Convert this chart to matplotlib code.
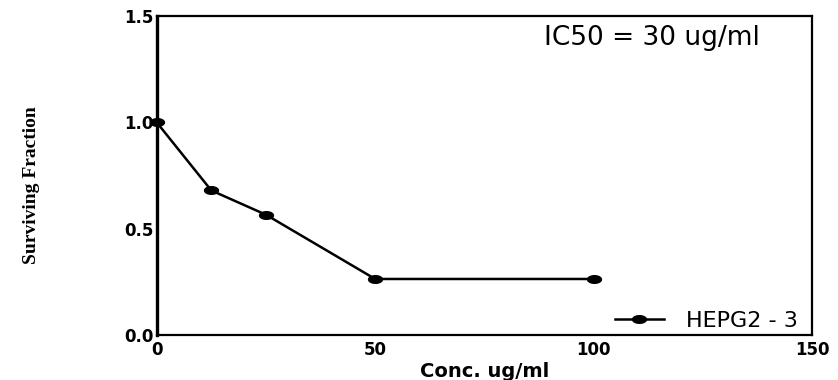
import matplotlib
matplotlib.use('Agg')
import matplotlib.pyplot as plt
from matplotlib.path import Path
import numpy as np

# data
conc = [0, 12.5, 25, 50, 100]
surv = [1.0, 0.68, 0.566, 0.264, 0.264]
series_name = 'HEPG2 - 3'
ic50_text = 'IC50 = 30 ug/ml'
xticks = [0, 50, 100, 150]
yticks = [0.0, 0.5, 1.0, 1.5]

# the scan is stretched sideways, so the dots look like flat ellipses
t = np.linspace(0, 2*np.pi, 40)
oval = Path(np.column_stack([np.cos(t), 0.55*np.sin(t)]), closed=True)

fig = plt.figure(figsize=(8.38, 3.8), dpi=100)
ax = fig.add_axes([0.187, 0.118, 0.782, 0.840])

ax.plot(conc, surv, '-', color='black', lw=1.8, marker=oval,
        markersize=10, label=series_name, clip_on=False)

ax.set_xlim(0, 150)
ax.set_ylim(0, 1.5)
ax.set_xticks(xticks)
ax.set_yticks(yticks)
ax.set_xticklabels([str(v) for v in xticks], fontsize=12, fontweight='bold',
                   family='DejaVu Sans')
ax.set_yticklabels(['%.1f' % v for v in yticks], fontsize=12, fontweight='bold',
                   family='DejaVu Sans')
ax.tick_params(axis='y', length=0, pad=2)
ax.tick_params(axis='x', length=0, pad=4)

for s in ax.spines.values():
    s.set_linewidth(1.6)
ax.spines['left'].set_linewidth(2.4)

ax.set_xlabel('Conc. ug/ml', fontsize=14, fontweight='bold', family='DejaVu Sans')
ax.xaxis.set_label_coords(0.5, -0.085)
ax.set_ylabel('Surviving Fraction', fontsize=14, fontweight='bold',
              family='Liberation Serif')
ax.yaxis.set_label_coords(-0.178, 0.47)

ax.text(0.92, 0.93, ic50_text, transform=ax.transAxes, ha='right', va='center',
        fontsize=19, family='DejaVu Sans')

leg = ax.legend(loc='lower right', bbox_to_anchor=(0.985, 0.0), frameon=False,
                handlelength=2.2, handletextpad=1.0, borderaxespad=0.0,
                borderpad=0.2, prop={'family': 'DejaVu Sans', 'size': 16})

fig.savefig('out.png', dpi=100)
